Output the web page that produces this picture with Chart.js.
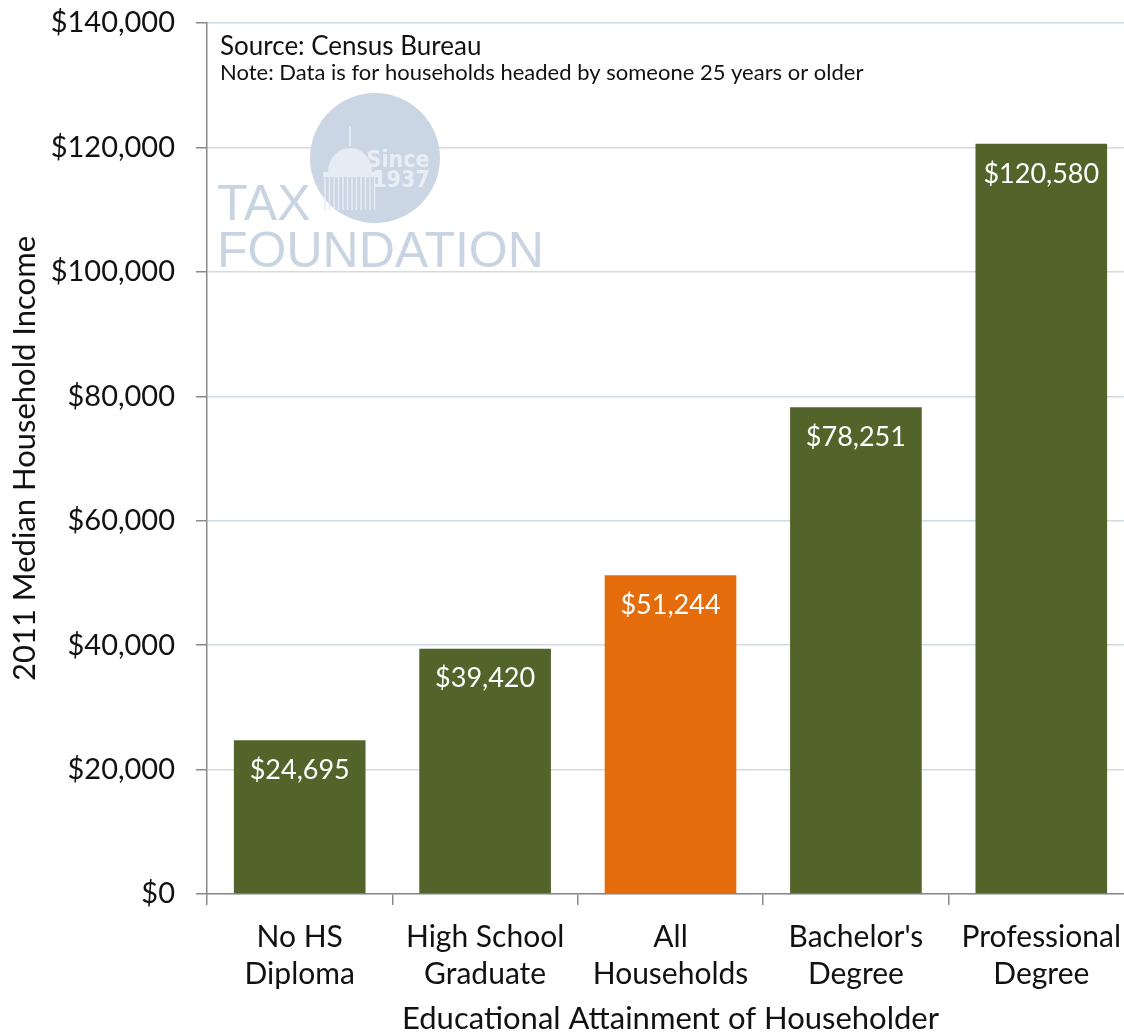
<!DOCTYPE html>
<html>
<head>
<meta charset="utf-8">
<script src="https://cdn.jsdelivr.net/npm/chart.js@4.4.1/dist/chart.umd.min.js"></script>
<style>
  html, body { margin: 0; padding: 0; background: #fff; overflow: hidden; }
  #wrap { width: 1134px; height: 1034px; }
</style>
</head>
<body>
<div id="wrap"><canvas id="incomeChart" width="1134" height="1034"></canvas></div>
<script>
const categories = [['No HS', 'Diploma'], ['High School', 'Graduate'], ['All', 'Households'], ["Bachelor's", 'Degree'], ['Professional', 'Degree']];
const incomes = [24695, 39420, 51244, 78251, 120580];
const barColors = ['#526429', '#526429', '#e46c0a', '#526429', '#526429'];
const yMax = 140000;
const yStep = 20000;

const FONT = 'Lato, "Open Sans", sans-serif';

function money(v) {
    return '$' + Number(v).toLocaleString('en-US');
}

// watermark + source notes, drawn behind the bars
const backdrop = {
    id: 'backdrop',
    beforeDatasetsDraw(chart) {
        const ctx = chart.ctx;
        const a = chart.chartArea;
        const cx = a.left + 168, cy = a.top + 135;
        ctx.save();
        // logo circle
        ctx.fillStyle = '#cad6e4';
        ctx.beginPath();
        ctx.arc(cx, cy, 65, 0, Math.PI * 2);
        ctx.fill();
        // rough capitol dome
        ctx.fillStyle = '#e6ecf3';
        ctx.strokeStyle = '#e6ecf3';
        ctx.lineWidth = 2;
        ctx.beginPath();
        ctx.moveTo(cx - 25, cy - 32);
        ctx.lineTo(cx - 25, cy - 12);
        ctx.stroke();
        ctx.beginPath();
        ctx.ellipse(cx - 25, cy + 14, 22, 24, 0, Math.PI, 0);
        ctx.fill();
        ctx.fillRect(cx - 52, cy + 14, 56, 5);
        ctx.lineWidth = 1.5;
        for (let k = 0; k < 12; k++) {
            const x = cx - 50 + k * 4.5;
            ctx.beginPath();
            ctx.moveTo(x, cy + 19);
            ctx.lineTo(x, cy + 52);
            ctx.stroke();
        }
        ctx.fillStyle = '#e9eef5';
        ctx.font = 'bold 23px "Liberation Sans Narrow", "DejaVu Sans Condensed", sans-serif';
        ctx.textAlign = 'center';
        ctx.fillText('Since', a.left + 191, a.top + 144);
        ctx.fillText('1937', a.left + 194, a.top + 164);
        ctx.fillStyle = '#c8d4e2';
        ctx.textAlign = 'left';
        ctx.font = '50px "Liberation Sans", Arial, sans-serif';
        ctx.fillText('TAX', a.left + 10, a.top + 197);
        ctx.fillText('FOUNDATION', a.left + 10, a.top + 244);
        // notes
        ctx.fillStyle = '#111';
        ctx.font = '26px ' + FONT;
        ctx.fillText('Source: Census Bureau', a.left + 13, a.top + 32);
        ctx.font = '22px ' + FONT;
        ctx.fillText('Note: Data is for households headed by someone 25 years or older', a.left + 13, a.top + 57);
        ctx.restore();
    }
};

// value labels inside the top of each bar
const valueLabels = {
    id: 'valueLabels',
    afterDatasetsDraw(chart) {
        const ctx = chart.ctx;
        const meta = chart.getDatasetMeta(0);
        ctx.save();
        ctx.fillStyle = '#ffffff';
        ctx.font = '27px ' + FONT;
        ctx.textAlign = 'center';
        ctx.textBaseline = 'middle';
        meta.data.forEach((bar, i) => {
            ctx.fillText(money(incomes[i]), bar.x, bar.y + 30);
        });
        ctx.restore();
    }
};

new Chart(document.getElementById('incomeChart').getContext('2d'), {
    type: 'bar',
    data: {
        labels: categories,
        datasets: [{
            data: incomes,
            backgroundColor: barColors,
            borderWidth: 0,
            categoryPercentage: 0.71,
            barPercentage: 1.0
        }]
    },
    options: {
        responsive: false,
        animation: false,
        layout: { padding: { top: 23, right: 0, left: 0, bottom: 0 } },
        plugins: {
            legend: { display: false },
            tooltip: { enabled: false }
        },
        scales: {
            x: {
                afterFit(scale) {
                    scale.height = 140;
                    scale.paddingLeft = 0;
                    scale.paddingRight = 0;
                },
                grid: {
                    offset: true,
                    drawOnChartArea: false,
                    drawTicks: true,
                    tickLength: 11,
                    tickColor: '#8a8a8a',
                    lineWidth: 1.5
                },
                border: { color: '#8a8a8a', width: 1.5 },
                ticks: {
                    color: '#111',
                    padding: 14,
                    font: { family: FONT, size: 30, lineHeight: 1.23 },
                    maxRotation: 0,
                    autoSkip: false
                },
                title: {
                    display: true,
                    text: 'Educational Attainment of Householder',
                    color: '#111',
                    font: { family: FONT, size: 31, lineHeight: 1.0 },
                    padding: { top: 0, bottom: 0 }
                }
            },
            y: {
                min: 0,
                max: yMax,
                afterFit(scale) {
                    scale.width = 207;
                    scale.paddingTop = 0;
                    scale.paddingBottom = 0;
                },
                grid: {
                    color: '#d2dae4',
                    lineWidth: 1.5,
                    drawTicks: true,
                    tickLength: 11,
                    tickColor: '#8a8a8a'
                },
                border: { color: '#8a8a8a', width: 1.5 },
                ticks: {
                    stepSize: yStep,
                    color: '#111',
                    padding: 21,
                    font: { family: FONT, size: 29 },
                    callback: v => money(v)
                },
                title: {
                    display: true,
                    text: '2011 Median Household Income',
                    color: '#111',
                    font: { family: FONT, size: 31 },
                    padding: { top: 6, bottom: 0 }
                }
            }
        }
    },
    plugins: [backdrop, valueLabels]
});
</script>
</body>
</html>
